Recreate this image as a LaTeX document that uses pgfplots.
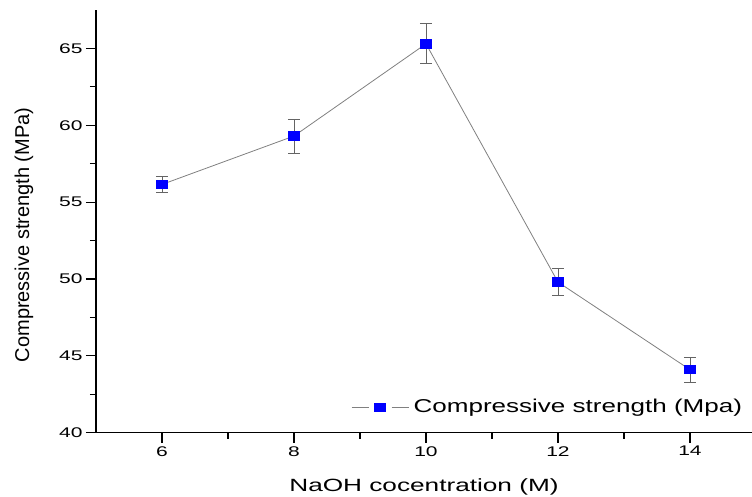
\documentclass[border=0pt]{standalone}
\usepackage{fontspec}
\setmainfont{Liberation Sans}
\usepackage{graphicx}
\usepackage{pgfplots}
\pgfplotsset{compat=1.18}

\definecolor{linegray}{RGB}{128,128,128}
\definecolor{errgray}{RGB}{100,100,100}

\begin{document}
\begin{tikzpicture}
\begin{axis}[
  name=ax, at={(0,0)}, anchor=south west,
  scale only axis, width=656pt, height=422.7pt,
  xmin=5, xmax=14.94, ymin=40, ymax=67.5,
  axis lines=left,
  axis line style={line width=1.1pt, -},
  xtick={6,8,10,12,14}, minor xtick={7,9,11,13},
  ytick={40,45,50,55,60,65}, minor ytick={42.5,47.5,52.5,57.5,62.5},
  tick align=outside,
  major tick length=10pt, minor tick length=6pt,
  tick style={black, line width=1.1pt},
  /pgf/number format/assume math mode=true,
  xticklabel={\scalebox{1.5}[1]{\pgfmathprintnumber{\tick}}},
  yticklabel={\scalebox{1.5}[1]{\pgfmathprintnumber{\tick}}},
  ticklabel style={font=\fontsize{14}{14}\selectfont},
  xlabel={\scalebox{1.48}[1]{NaOH cocentration (M)}},
  xlabel style={at={(axis description cs:0.5,0)}, anchor=base, yshift=-59pt,
    font=\fontsize{17.7}{18}\selectfont},
  ylabel={Compressive strength (MPa)},
  ylabel style={at={([xshift=-72pt]axis description cs:0,0.468)}, anchor=center,
    font=\fontsize{20}{22}\selectfont},
  legend style={draw=none, fill=none, at={(0.992,0.061)}, anchor=east,
    inner sep=0pt, font=\fontsize{18.6}{20}\selectfont,
    nodes={inner sep=4.5pt}},
  legend image code/.code={
    \draw[linegray, line width=0.8pt] (0pt,0pt) -- (17pt,0pt);
    \draw[linegray, line width=0.8pt] (40pt,0pt) -- (57pt,0pt);
    \fill[blue] (28.5pt,0pt) ++(-5.5pt,-4pt) rectangle ++(11pt,8pt);
  },
]
\addplot[
  linegray, line width=0.8pt,
  mark=square*, mark size=4.2pt,
  mark options={blue, fill=blue, xscale=1.4},
  error bars/.cd, y dir=both, y explicit,
  error bar style={errgray, line width=0.8pt},
  error mark options={errgray, mark size=6pt, line width=0.8pt, rotate=90},
] coordinates {
(6, 56.15) +- (0, 0.5)
(8, 59.3) +- (0, 1.1)
(10, 65.3) +- (0, 1.3)
(12, 49.8) +- (0, 0.9)
(14, 44.1) +- (0, 0.8)
};
\addlegendentry{\scalebox{1.4}[1]{Compressive strength (Mpa)}}
\end{axis}
\pgfresetboundingbox
\path[use as bounding box] ([shift={(-96pt,-64.3pt)}]ax.south west) rectangle ([shift={(0pt,10pt)}]ax.north east);
\end{tikzpicture}
\end{document}
